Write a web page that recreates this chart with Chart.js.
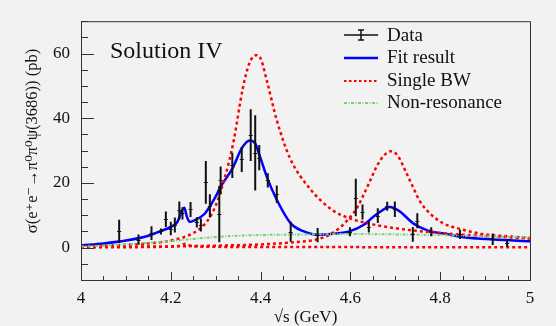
<!DOCTYPE html>
<html>
<head>
<meta charset="utf-8">
<script src="https://cdn.jsdelivr.net/npm/chart.js@4.4.0/dist/chart.umd.min.js"></script>
<style>
  html, body { margin: 0; padding: 0; background: #f2f2f2; }
  canvas { display: block; }
</style>
</head>
<body>
<canvas id="chart" width="556" height="326"></canvas>
<script>
// Données (Solution IV)
const dataX   = [4.085, 4.128, 4.157, 4.178, 4.189, 4.200, 4.209, 4.219, 4.226, 4.244, 4.258, 4.267, 4.278, 4.287, 4.308, 4.311, 4.337, 4.358, 4.378, 4.388, 4.397, 4.416, 4.436, 4.467, 4.527, 4.599, 4.612, 4.627, 4.641, 4.661, 4.682, 4.699, 4.739, 4.749, 4.780, 4.844, 4.917, 4.949];
const dataY   = [5.0, 2.5, 4.5, 5.0, 8.8, 5.9, 7.0, 11.5, 10.6, 11.8, 7.8, 7.0, 20.2, 12.9, 10.4, 20.8, 25.4, 27.3, 34.8, 29.3, 27.8, 20.8, 16.5, 4.9, 3.9, 4.9, 15.5, 11.0, 6.5, 9.9, 12.8, 11.9, 4.1, 8.3, 4.9, 4.1, 2.6, 1.4];
const dataErr = [3.6, 1.6, 2.1, 0.9, 2.4, 2.1, 2.3, 2.8, 1.9, 2.3, 1.6, 2.0, 6.6, 3.6, 8.7, 4.3, 3.9, 3.9, 8.0, 11.6, 3.9, 2.2, 2.7, 3.1, 2.2, 1.4, 5.8, 2.3, 1.8, 2.3, 1.4, 2.4, 2.3, 2.3, 1.4, 1.4, 1.8, 1.1];

// Courbe d'ajustement
const fitX = [4.00, 4.05, 4.10, 4.15, 4.175, 4.20, 4.215, 4.225, 4.23, 4.236, 4.242, 4.25, 4.275, 4.30, 4.31, 4.337, 4.358, 4.376, 4.388, 4.397, 4.416, 4.436, 4.467, 4.495, 4.526, 4.562, 4.599, 4.629, 4.659, 4.688, 4.71, 4.74, 4.77, 4.814, 4.844, 4.918, 5.00];
const fitY = [0.7, 1.3, 2.2, 3.7, 5.0, 6.4, 8.0, 11.5, 12.3, 9.5, 8.0, 8.3, 10.4, 15.8, 18.6, 24.4, 30.7, 33.1, 32.2, 28.8, 21.1, 14.8, 7.5, 5.1, 4.0, 4.3, 5.1, 7.0, 10.4, 12.6, 11.2, 7.5, 5.4, 4.2, 3.4, 2.5, 2.0];

// Single BW (trois composantes)
const bw1X = [4.00, 4.05, 4.10, 4.15, 4.20, 4.25, 4.28, 4.30, 4.32, 4.34, 4.36, 4.375, 4.39, 4.40, 4.415, 4.436, 4.465, 4.51, 4.56, 4.60, 4.65, 4.70, 4.80, 4.90, 5.00];
const bw1Y = [0.4, 0.6, 0.9, 1.3, 2.2, 4.5, 8.0, 13.0, 21.5, 33.0, 49.0, 57.0, 59.5, 58.5, 51.0, 39.4, 27.8, 18.2, 11.6, 9.0, 7.2, 6.0, 4.5, 3.6, 2.8];
const bw2X = [4.00, 4.20, 4.30, 4.40, 4.45, 4.50, 4.53, 4.56, 4.58, 4.60, 4.615, 4.63, 4.645, 4.66, 4.675, 4.69, 4.705, 4.725, 4.74, 4.755, 4.78, 4.807, 4.844, 4.89, 4.95, 5.00];
const bw2Y = [0.2, 0.4, 0.6, 1.0, 1.4, 2.0, 2.7, 4.5, 6.6, 9.5, 12.4, 16.5, 21.0, 25.5, 28.5, 29.8, 28.5, 23.0, 18.5, 14.3, 10.2, 7.5, 5.8, 4.3, 3.5, 3.0];
const bw3X = [4.00, 4.20, 4.22, 4.232, 4.244, 4.27, 4.40, 5.00];
const bw3Y = [0.1, 0.3, 0.6, 1.2, 0.6, 0.3, 0.2, 0.1];

// Non-résonant
const nrX = [4.00, 4.05, 4.10, 4.15, 4.20, 4.25, 4.30, 4.35, 4.40, 4.50, 4.60, 4.70, 4.80, 4.90, 5.00];
const nrY = [0.3, 0.6, 1.0, 1.5, 2.0, 2.7, 3.3, 3.7, 3.9, 4.1, 4.2, 4.1, 3.9, 3.5, 3.2];

// Graduations
const xTicks = [4, 4.2, 4.4, 4.6, 4.8, 5];
const xTickLabels = ['4', '4.2', '4.4', '4.6', '4.8', '5'];
const yTicks = [0, 20, 40, 60];
const yTickLabels = ['0', '20', '40', '60'];

const SERIF = "'Liberation Serif', 'DejaVu Serif', serif";
const BLUE = '#0000ff';
const RED = '#ff0000';
const GREEN = '#74d474';

function pts(xs, ys) {
  return xs.map((x, i) => ({ x: x, y: ys[i] }));
}

// Graduations intérieures + cadre
const framePlugin = {
  id: 'frame',
  afterDraw(chart) {
    const { ctx, chartArea: a, scales: { x, y } } = chart;
    ctx.save();
    ctx.strokeStyle = '#333';
    ctx.lineWidth = 1;
    ctx.strokeRect(a.left + 0.5, a.top + 0.5, a.right - a.left, a.bottom - a.top);
    ctx.beginPath();
    for (let v = 4; v <= 5.0001; v += 0.05) {
      const px = Math.round(x.getPixelForValue(v)) + 0.5;
      const major = Math.abs(v * 5 - Math.round(v * 5)) < 1e-6;
      ctx.moveTo(px, a.bottom);
      ctx.lineTo(px, a.bottom - (major ? 8 : 4));
    }
    for (let v = -10; v <= 70; v += 5) {
      const py = Math.round(y.getPixelForValue(v)) + 0.5;
      const major = v % 20 === 0;
      ctx.moveTo(a.left, py);
      ctx.lineTo(a.left + (major ? 13 : 7), py);
    }
    ctx.stroke();
    ctx.restore();
  }
};

// Barres d'erreur
const errorBarPlugin = {
  id: 'errorBars',
  afterDatasetsDraw(chart) {
    const { ctx, chartArea: a, scales: { x, y } } = chart;
    ctx.save();
    ctx.beginPath();
    ctx.rect(a.left, a.top, a.right - a.left, a.bottom - a.top);
    ctx.clip();
    ctx.strokeStyle = '#111';
    ctx.lineWidth = 2;
    ctx.beginPath();
    dataX.forEach((vx, i) => {
      const px = x.getPixelForValue(vx);
      ctx.moveTo(px, y.getPixelForValue(dataY[i] - dataErr[i]));
      ctx.lineTo(px, y.getPixelForValue(dataY[i] + dataErr[i]));
    });
    ctx.stroke();
    ctx.lineWidth = 1;
    ctx.beginPath();
    dataX.forEach((vx, i) => {
      const px = x.getPixelForValue(vx);
      const py = Math.round(y.getPixelForValue(dataY[i])) + 0.5;
      ctx.moveTo(px - 2, py);
      ctx.lineTo(px + 2, py);
    });
    ctx.stroke();
    ctx.restore();
  }
};

// Légende et textes
const legendPlugin = {
  id: 'customLegend',
  afterDraw(chart) {
    const ctx = chart.ctx;
    ctx.save();
    const x0 = 344, x1 = 378, tx = 387;
    const rows = [
      { y: 35, base: 41, text: 'Data' },
      { y: 58, base: 63, text: 'Fit result' },
      { y: 81, base: 85.5, text: 'Single BW' },
      { y: 103, base: 108, text: 'Non-resonance' }
    ];
    // Data
    ctx.strokeStyle = '#111';
    ctx.lineWidth = 1.5;
    ctx.beginPath();
    ctx.moveTo(x0, rows[0].y); ctx.lineTo(x1, rows[0].y);
    ctx.moveTo(361, rows[0].y - 5); ctx.lineTo(361, rows[0].y + 5);
    ctx.moveTo(358, rows[0].y - 5); ctx.lineTo(364, rows[0].y - 5);
    ctx.moveTo(358, rows[0].y + 5); ctx.lineTo(364, rows[0].y + 5);
    ctx.stroke();
    // Fit
    ctx.strokeStyle = BLUE;
    ctx.lineWidth = 2.5;
    ctx.beginPath(); ctx.moveTo(x0, rows[1].y); ctx.lineTo(x1, rows[1].y); ctx.stroke();
    // BW
    ctx.strokeStyle = RED;
    ctx.lineWidth = 2;
    ctx.setLineDash([2.5, 2.5]);
    ctx.beginPath(); ctx.moveTo(x0, rows[2].y); ctx.lineTo(x1, rows[2].y); ctx.stroke();
    // Non-res
    ctx.strokeStyle = GREEN;
    ctx.lineWidth = 2;
    ctx.setLineDash([3, 1.5, 1, 1.5]);
    ctx.beginPath(); ctx.moveTo(x0, rows[3].y); ctx.lineTo(x1, rows[3].y); ctx.stroke();
    ctx.setLineDash([]);

    ctx.fillStyle = '#111';
    ctx.font = '19px ' + SERIF;
    ctx.textAlign = 'left';
    ctx.textBaseline = 'alphabetic';
    rows.forEach(r => ctx.fillText(r.text, tx, r.base));

    ctx.font = '24px ' + SERIF;
    ctx.fillText('Solution IV', 110, 58);

    // titre de l'axe Y
    ctx.translate(33, 141);
    ctx.rotate(-Math.PI / 2);
    ctx.font = '16.5px ' + SERIF;
    ctx.textAlign = 'center';
    ctx.textBaseline = 'middle';
    ctx.fillText('σ(e⁺e⁻→π⁰π⁰ψ(3686)) (pb)', 0, 0);
    ctx.restore();
  }
};

new Chart(document.getElementById('chart'), {
  type: 'line',
  data: {
    datasets: [
      {
        label: 'Non-resonance',
        data: pts(nrX, nrY),
        borderColor: GREEN,
        borderWidth: 2,
        borderDash: [3, 1.5, 1, 1.5],
        pointRadius: 0,
        tension: 0.4
      },
      {
        label: 'Single BW',
        data: pts(bw3X, bw3Y),
        borderColor: RED,
        borderWidth: 2.5,
        borderDash: [3, 3],
        pointRadius: 0,
        cubicInterpolationMode: 'monotone'
      },
      {
        label: 'Single BW 2',
        data: pts(bw2X, bw2Y),
        borderColor: RED,
        borderWidth: 2.5,
        borderDash: [3, 3],
        pointRadius: 0,
        cubicInterpolationMode: 'monotone'
      },
      {
        label: 'Single BW 1',
        data: pts(bw1X, bw1Y),
        borderColor: RED,
        borderWidth: 2.5,
        borderDash: [3, 3],
        pointRadius: 0,
        cubicInterpolationMode: 'monotone'
      },
      {
        label: 'Fit result',
        data: pts(fitX, fitY),
        borderColor: BLUE,
        borderWidth: 2.5,
        pointRadius: 0,
        cubicInterpolationMode: 'monotone'
      },
      {
        label: 'Data',
        data: pts(dataX, dataY),
        showLine: false,
        pointRadius: 0
      }
    ]
  },
  options: {
    responsive: false,
    animation: false,
    devicePixelRatio: 1,
    layout: { padding: { top: 5, right: 26, left: 0, bottom: 0 } },
    plugins: {
      legend: { display: false },
      tooltip: { enabled: false }
    },
    scales: {
      x: {
        type: 'linear',
        min: 4,
        max: 5,
        afterBuildTicks: s => { s.ticks = xTicks.map(v => ({ value: v })); },
        afterFit: s => { s.height = 46; },
        grid: { display: false, drawTicks: false },
        border: { display: false },
        ticks: {
          autoSkip: false,
          maxRotation: 0,
          padding: 8,
          color: '#111',
          font: { family: SERIF, size: 17 },
          callback: (v, i) => xTickLabels[i]
        },
        title: {
          display: true,
          text: '√s (GeV)',
          color: '#111',
          font: { family: SERIF, size: 17 },
          padding: { top: 0, bottom: -2 }
        }
      },
      y: {
        type: 'linear',
        min: -10,
        max: 70,
        afterBuildTicks: s => { s.ticks = yTicks.map(v => ({ value: v })); },
        afterFit: s => { s.width = 81; },
        grid: { display: false, drawTicks: false },
        border: { display: false },
        ticks: {
          autoSkip: false,
          padding: 11,
          color: '#111',
          font: { family: SERIF, size: 17 },
          callback: (v, i) => yTickLabels[i]
        },
        title: { display: false }
      }
    }
  },
  plugins: [framePlugin, errorBarPlugin, legendPlugin]
});
</script>
</body>
</html>
